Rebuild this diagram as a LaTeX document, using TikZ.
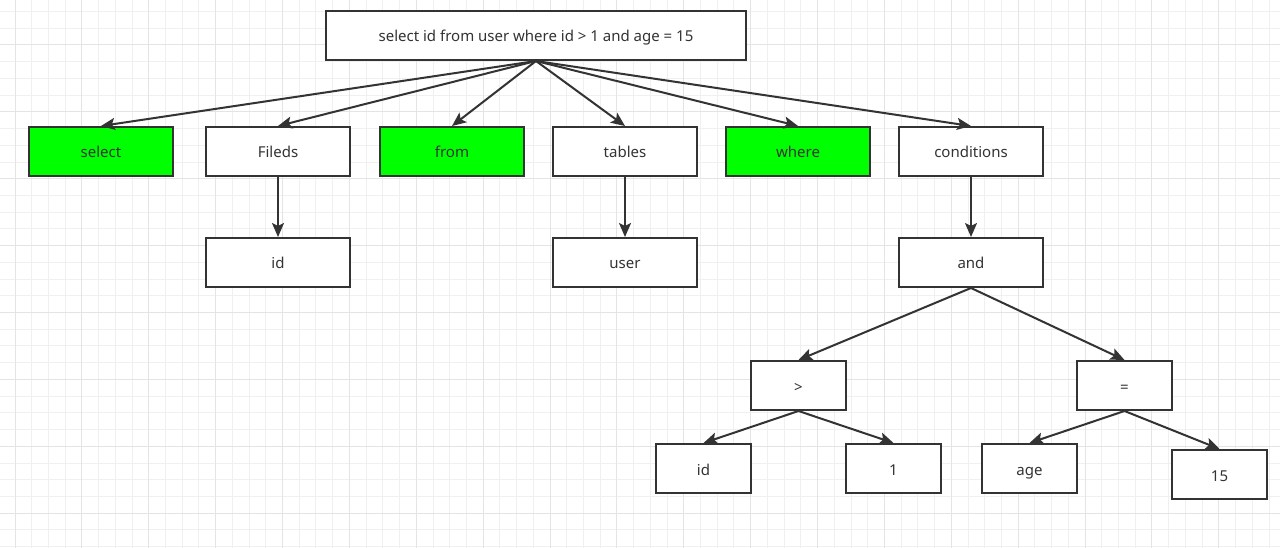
\documentclass[tikz,border=0pt]{standalone}
\usepackage{fontspec}
\setmainfont{Noto Sans}
\usetikzlibrary{arrows.meta}
\definecolor{ink}{HTML}{333333}
\definecolor{gmin}{HTML}{F0F0F0}
\definecolor{gmaj}{HTML}{E4E4E4}
\definecolor{lime}{HTML}{00FF00}
\tikzset{
  box/.style={draw=ink, line width=2pt, fill=white, text=ink, font=\fontsize{15}{18}\selectfont,
    minimum width=144pt, minimum height=49pt, inner sep=0pt, text height=15pt, text depth=2pt},
  small/.style={box, minimum width=95pt},
  hl/.style={fill=lime},
  conn/.style={draw=ink, line width=2pt, -{Stealth[length=14pt,width=12pt,inset=3pt]}},
}
\begin{document}
\begin{tikzpicture}[x=1pt,y=-1pt]
\useasboundingbox (0,0) rectangle (1280,548);
\fill[white] (0,0) rectangle (1280,548);
% grid
\foreach \k in {-1,...,76} {
  \draw[gmin, line width=1pt] ({15+16.72*\k},0) -- ({15+16.72*\k},548);
}
\foreach \k in {-3,...,30} {
  \draw[gmin, line width=1pt] (0,{45+16.72*\k}) -- (1280,{45+16.72*\k});
}
\foreach \k in {0,...,19} {
  \draw[gmaj, line width=1pt] ({15+66.88*\k},0) -- ({15+66.88*\k},548);
}
\foreach \k in {-1,...,8} {
  \draw[gmaj, line width=1pt] (0,{45+66.88*\k}) -- (1280,{45+66.88*\k});
}
% nodes
\node[box, minimum width=420pt] (top) at (536,35.5) {select id from user where id > 1 and age = 15};
\node[box, hl] (sel) at (101,151.5) {select};
\node[box] (fld) at (278,151.5) {Fileds};
\node[box, hl] (frm) at (452,151.5) {from};
\node[box] (tbl) at (625,151.5) {tables};
\node[box, hl] (whr) at (798,151.5) {where};
\node[box] (cnd) at (971,151.5) {conditions};
\node[box] (fid) at (278,262.5) {id};
\node[box] (usr) at (625,262.5) {user};
\node[box] (and) at (971,262.5) {and};
\node[small] (gt) at (798.5,385.5) {>};
\node[small] (eq) at (1124.5,385.5) {=};
\node[small] (lid) at (703.5,468.5) {id};
\node[small] (one) at (893.5,468.5) {1};
\node[small] (age) at (1029.5,468.5) {age};
\node[small] (fif) at (1219.5,474.5) {15};
% connectors
\foreach \n in {sel,fld,frm,tbl,whr,cnd} {
  \draw[conn] (top.south) -- (\n.north);
}
\draw[conn] (fld.south) -- (fid.north);
\draw[conn] (tbl.south) -- (usr.north);
\draw[conn] (cnd.south) -- (and.north);
\draw[conn] (and.south) -- (gt.north);
\draw[conn] (and.south) -- (eq.north);
\draw[conn] (gt.south) -- (lid.north);
\draw[conn] (gt.south) -- (one.north);
\draw[conn] (eq.south) -- (age.north);
\draw[conn] (eq.south) -- (fif.north);
\end{tikzpicture}
\end{document}
